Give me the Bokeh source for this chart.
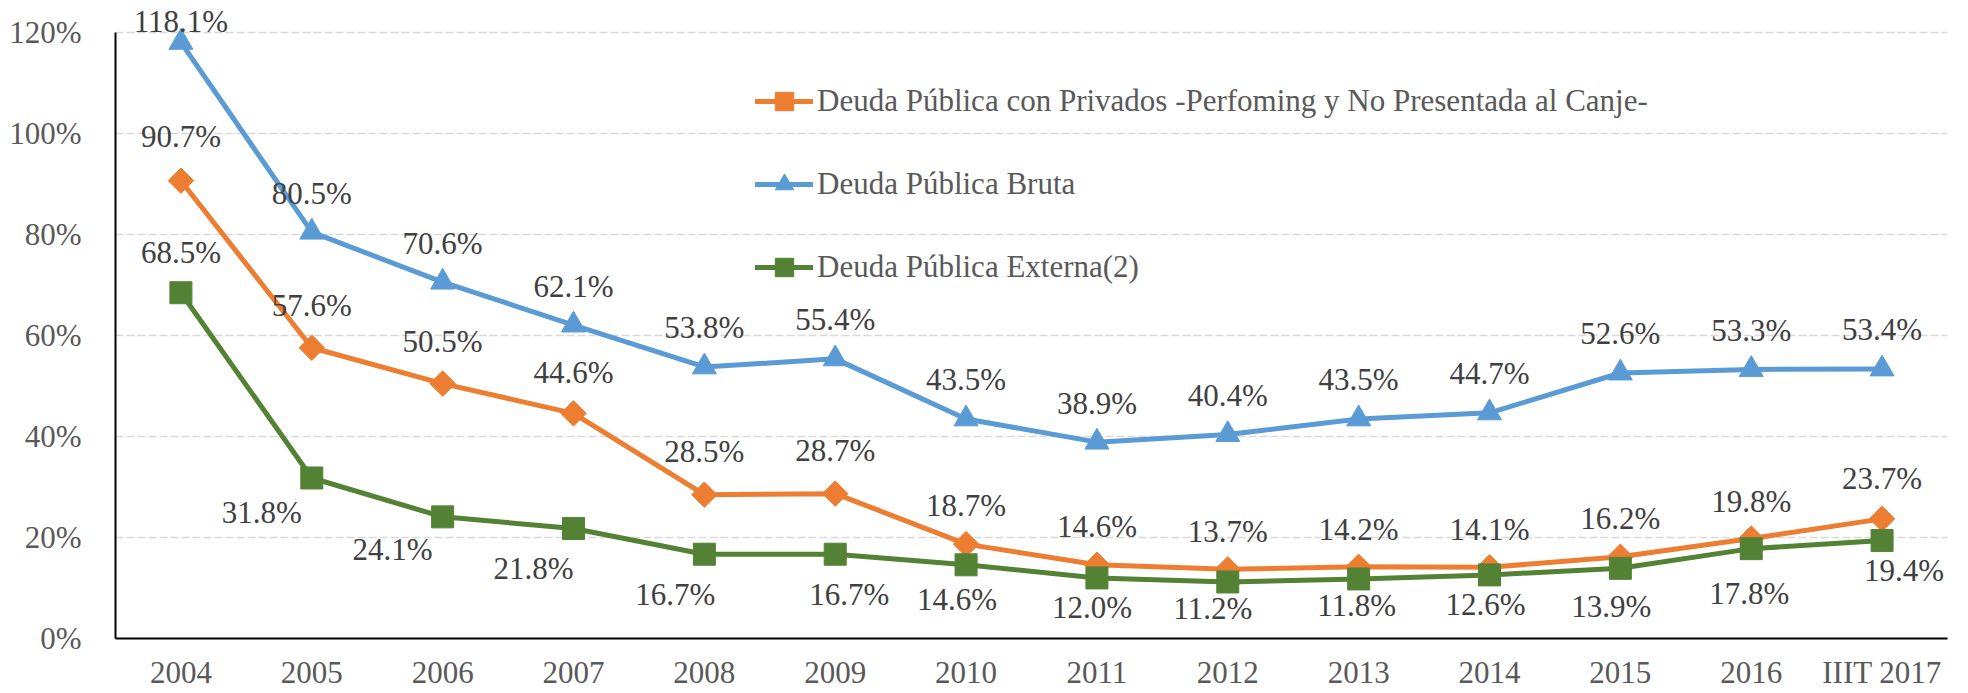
import math
from bokeh.plotting import figure
from bokeh.models import (ColumnDataSource, Range1d, FactorRange, FixedTicker,
                          PrintfTickFormatter, LabelSet, Legend, LegendItem)
from bokeh.core.properties import value
from bokeh.embed import file_html
from bokeh.resources import INLINE

# ---------------- data ----------------
years = ["2004", "2005", "2006", "2007", "2008", "2009", "2010", "2011",
         "2012", "2013", "2014", "2015", "2016", "IIIT 2017"]
privados = [90.7, 57.6, 50.5, 44.6, 28.5, 28.7, 18.7, 14.6, 13.7, 14.2, 14.1, 16.2, 19.8, 23.7]
bruta = [118.1, 80.5, 70.6, 62.1, 53.8, 55.4, 43.5, 38.9, 40.4, 43.5, 44.7, 52.6, 53.3, 53.4]
externa = [68.5, 31.8, 24.1, 21.8, 16.7, 16.7, 14.6, 12.0, 11.2, 11.8, 12.6, 13.9, 17.8, 19.4]
y_ticks = [0, 20, 40, 60, 80, 100, 120]

names = ["Deuda Pública con Privados -Perfoming y No Presentada al Canje-",
         "Deuda Pública Bruta",
         "Deuda Pública Externa(2)"]

# label placement (screen px offsets, style only)
off_bruta_y = [21] + [39] * 13
off_priv_y = [44, 42, 42, 41, 43, 43, 39, 38, 38, 37, 38, 38, 37, 40]
off_ext_x = [0, -50, -50, -40, -29, 14, -9, -5, -15, -2, -4, -9, -2, 22]
off_ext_y = [40, -35, -33, -40, -40, -40, -35, -30, -27, -27, -30, -38, -45, -30]

FONT = "Liberation Serif"
C_OR = "#ED7D31"
C_BL = "#5B9BD5"
C_GR = "#548235"

p = figure(x_range=FactorRange(*years), y_range=Range1d(0, 126),
           width=1968, height=693, output_backend="svg", toolbar_location=None,
           min_border_left=115, min_border_right=21, min_border_top=2,
           min_border_bottom=55)
p.x_range.range_padding = 0
p.outline_line_color = None
p.background_fill_color = "white"
p.border_fill_color = "white"

# axes
p.yaxis.ticker = FixedTicker(ticks=y_ticks)
p.yaxis.formatter = PrintfTickFormatter(format="%d%%")
p.yaxis.bounds = (0, 120)
for ax in (p.xaxis[0], p.yaxis[0]):
    ax.axis_line_color = "black"
    ax.axis_line_width = 2
    ax.major_tick_line_color = None
    ax.minor_tick_line_color = None
    ax.major_label_text_font = FONT
    ax.major_label_text_font_size = "31px"
    ax.major_label_text_color = "#595959"
p.yaxis.major_label_standoff = 28
p.xaxis.major_label_standoff = 10

p.xgrid.visible = False
p.ygrid.ticker = FixedTicker(ticks=y_ticks)
p.ygrid.grid_line_color = "#D9D9D9"
p.ygrid.grid_line_width = 1.5
p.ygrid.grid_line_dash = "8 3"

src = ColumnDataSource(dict(x=years, pri=privados, bru=bruta, ext=externa,
                            tp=[f"{v:.1f}%" for v in privados],
                            tb=[f"{v:.1f}%" for v in bruta],
                            te=[f"{v:.1f}%" for v in externa],
                            oby=off_bruta_y, opy=off_priv_y,
                            oex=off_ext_x, oey=off_ext_y))

LW = 5
line_kw = dict(source=src, line_width=LW, line_cap="round", line_join="round")
l_b = p.line("x", "bru", line_color=C_BL, **line_kw)
s_b = p.scatter("x", "bru", source=src, marker="triangle", size=24,
                fill_color=C_BL, line_color=C_BL)
l_o = p.line("x", "pri", line_color=C_OR, **line_kw)
s_o = p.scatter("x", "pri", source=src, marker="square", size=18, angle=math.pi / 4,
                fill_color=C_OR, line_color=C_OR)
l_g = p.line("x", "ext", line_color=C_GR, **line_kw)
s_g = p.scatter("x", "ext", source=src, marker="square", size=22,
                fill_color=C_GR, line_color=C_GR)

lab_kw = dict(source=src, text_align="center", text_baseline="middle",
              text_font=value(FONT), text_font_size="31px", text_color="#404040")
p.add_layout(LabelSet(x="x", y="bru", text="tb", y_offset="oby", **lab_kw))
p.add_layout(LabelSet(x="x", y="pri", text="tp", y_offset="opy", **lab_kw))
p.add_layout(LabelSet(x="x", y="ext", text="te", x_offset="oex", y_offset="oey", **lab_kw))

legend = Legend(items=[LegendItem(label=names[0], renderers=[l_o, s_o]),
                       LegendItem(label=names[1], renderers=[l_b, s_b]),
                       LegendItem(label=names[2], renderers=[l_g, s_g])],
                location=(640, 348), orientation="vertical",
                spacing=37, glyph_width=58, glyph_height=46, label_height=46,
                label_standoff=4, padding=0, margin=0,
                border_line_alpha=0, background_fill_alpha=0,
                label_text_font=FONT, label_text_font_size="31px",
                label_text_color="#595959")
p.add_layout(legend)

open("out.html", "w").write(file_html(p, INLINE))
